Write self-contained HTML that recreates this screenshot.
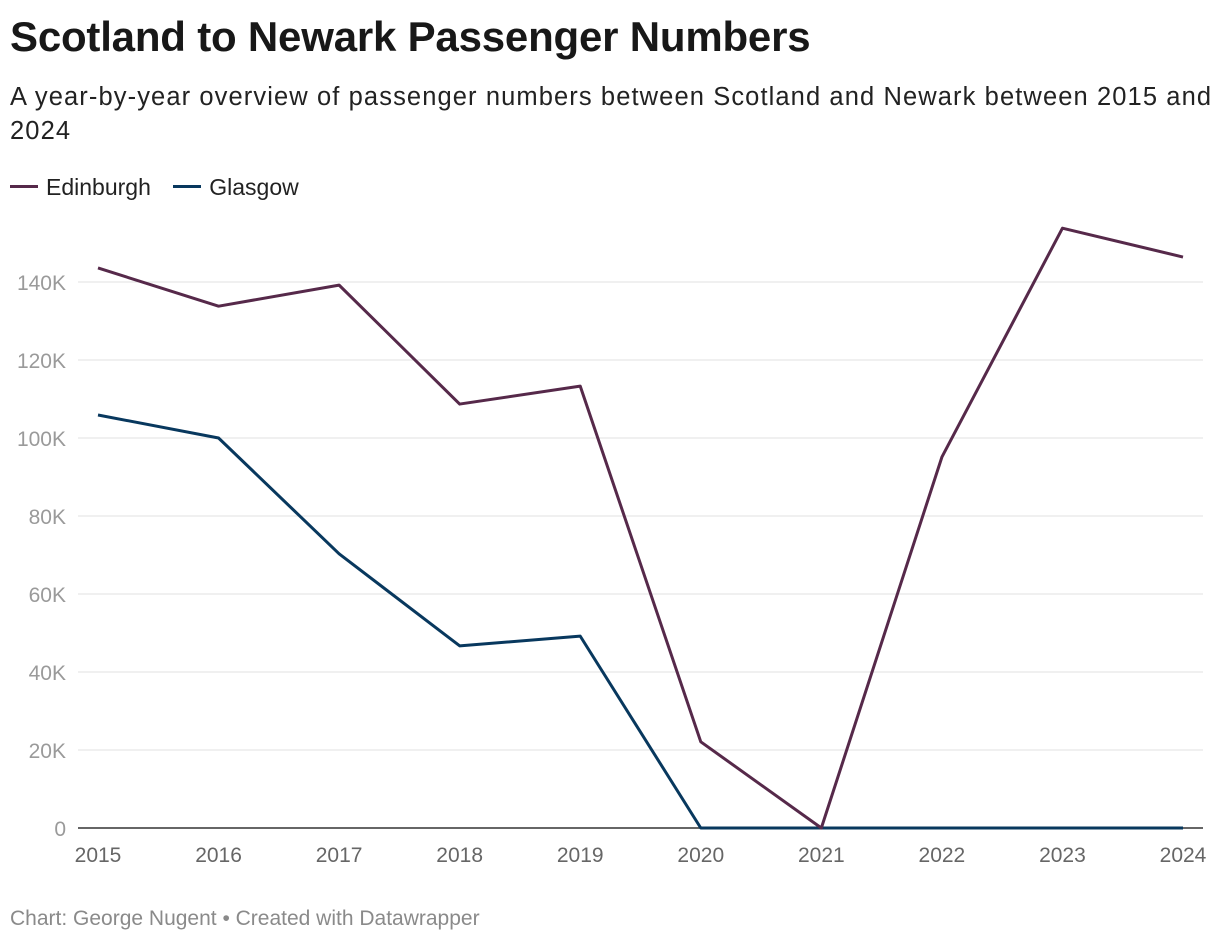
<!DOCTYPE html>
<html><head><meta charset="utf-8"><style>
body{margin:0;width:1220px;height:944px;background:#fff;font-family:"Liberation Sans",sans-serif;overflow:hidden}
#title{position:absolute;left:10px;top:13px;font-size:42px;font-weight:bold;color:#181818;margin:0;letter-spacing:-0.2px}
#sub{position:absolute;left:10px;top:80px;width:1205px;font-size:25.5px;line-height:34px;color:#222;letter-spacing:1.1px}
#legend{position:absolute;left:10px;top:174px;font-size:23px;color:#222}
.li{display:inline-block;margin-right:16px}
.sw{display:inline-block;width:28px;height:3px;vertical-align:middle;margin-right:8px;position:relative;top:-2px}
#foot{position:absolute;left:10px;top:907px;font-size:21px;color:#8a8a8a}
</style></head><body>
<h1 id="title">Scotland to Newark Passenger Numbers</h1>
<div id="sub">A year-by-year overview of passenger numbers between Scotland and Newark between 2015 and 2024</div>
<div id="legend">
<span class="li"><span class="sw" style="background:#56294a"></span>Edinburgh</span>
<span class="li"><span class="sw" style="background:#08385e"></span>Glasgow</span>
</div>
<svg id="chart" width="1220" height="944" style="position:absolute;left:0;top:0"></svg>
<div id="foot">Chart: George Nugent • Created with Datawrapper</div>
<script>
const years=[2015,2016,2017,2018,2019,2020,2021,2022,2023,2024];
const edinburgh=[143.6,133.8,139.2,108.7,113.3,22.1,0,95.1,153.8,146.4];
const glasgow=[105.9,100,70.3,46.7,49.2,0,0,0,0,0];
const yTicks=[0,20,40,60,80,100,120,140];
const svg=document.getElementById('chart');
const NS='http://www.w3.org/2000/svg';
const x=i=>98+i*(1183-98)/(years.length-1);
const y=v=>828-v*(828-282)/140;
function mk(t,a){const e=document.createElementNS(NS,t);for(const k in a)e.setAttribute(k,a[k]);svg.appendChild(e);return e;}
yTicks.forEach(v=>{
 const g=mk('line',{x1:78,x2:1203,y1:y(v),y2:y(v),stroke:v===0?'#333':'#e0e0e0','stroke-width':v===0?1.5:1});
 
 
 const t=mk('text',{x:66,y:y(v)+8,'text-anchor':'end','font-size':21,fill:'#9a9a9a','font-family':'Liberation Sans, sans-serif'});
 t.textContent=v===0?'0':v+'K';
 
 
});
years.forEach((yr,i)=>{
 const t=mk('text',{x:x(i),y:862,'text-anchor':'middle','font-size':21,fill:'#666','font-family':'Liberation Sans, sans-serif'});
 t.textContent=yr;
 
 
});
function line(d,c,n){
 const p=mk('polyline',{points:d.map((v,i)=>x(i)+','+y(v)).join(' '),fill:'none',stroke:c,'stroke-width':3,'stroke-linejoin':'round'});
 
 
}
line(glasgow,'#08385e','glasgow-line');
line(edinburgh,'#56294a','edinburgh-line');
</script>
</body></html>
